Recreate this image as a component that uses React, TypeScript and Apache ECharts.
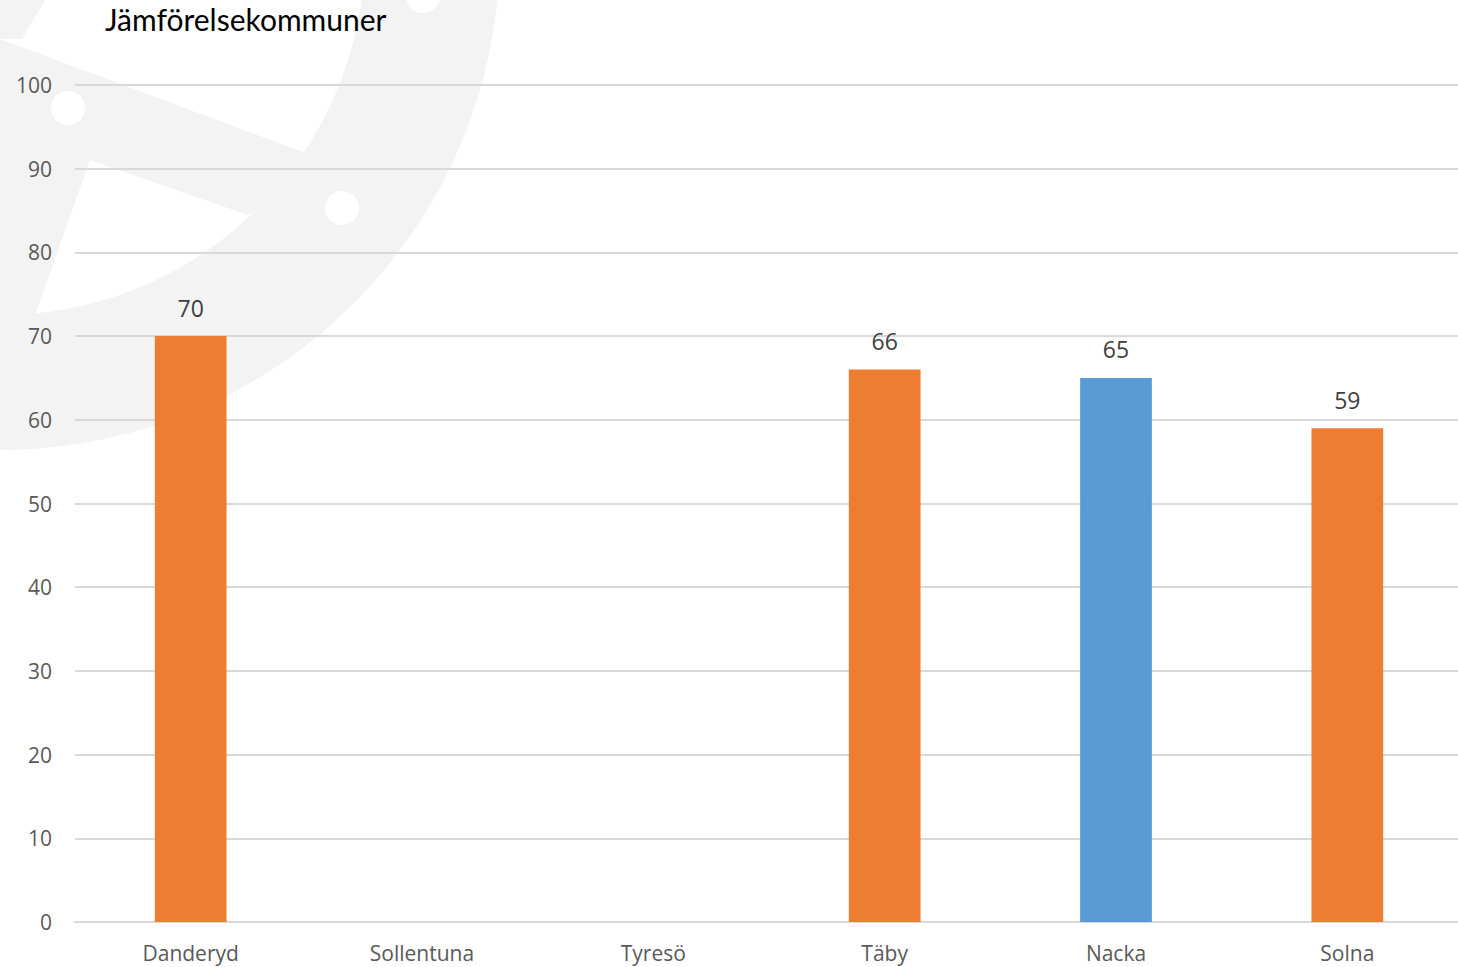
import React, { useEffect, useRef } from "react";
import * as echarts from "echarts";

const categories = ["Danderyd", "Sollentuna", "Tyresö", "Täby", "Nacka", "Solna"];
const values: (number | null)[] = [70, null, null, 66, 65, 59];
const barColors = ["#ED7D31", "#ED7D31", "#ED7D31", "#ED7D31", "#5B9BD5", "#ED7D31"];
const titleText = "Jämförelsekommuner";

const GRAY = "#f3f3f3";

export default function App() {
  const ref = useRef<HTMLDivElement>(null);
  useEffect(() => {
    if (!ref.current) return;
    const chart = echarts.init(ref.current, undefined, { renderer: "svg" });
    const font = "'Open Sans', 'Noto Sans', sans-serif";
    chart.setOption({
      animation: false,
      backgroundColor: "#ffffff",
      title: {
        text: titleText,
        left: 100,
        top: -1,
        textStyle: { fontFamily: "Lato, sans-serif", fontSize: 30, fontWeight: "normal", color: "#000000" },
      },
      graphic: [
        { type: "ring", z: -10, shape: { cx: 0, cy: -50, r: 500, r0: 365 }, style: { fill: GRAY } },
        {
          type: "polygon", z: -10,
          shape: { points: [[0, 39], [303, 152], [330, 180], [248, 215], [90, 160], [0, 129]] },
          style: { fill: GRAY },
        },
        {
          type: "polygon", z: -10,
          shape: { points: [[0, 129], [90, 160], [35, 315], [0, 315]] },
          style: { fill: GRAY },
        },
        {
          type: "polygon", z: -10,
          shape: { points: [[0, 0], [45, 0], [22, 39], [0, 39]] },
          style: { fill: GRAY },
        },
        { type: "circle", z: -9, shape: { cx: 68, cy: 108, r: 17 }, style: { fill: "#ffffff" } },
        { type: "circle", z: -9, shape: { cx: 342, cy: 208, r: 17 }, style: { fill: "#ffffff" } },
        { type: "circle", z: -9, shape: { cx: 423, cy: -4, r: 17 }, style: { fill: "#ffffff" } },
      ],
      grid: { left: 75, right: 0, top: 85, bottom: 45, containLabel: false },
      xAxis: {
        type: "category",
        data: categories,
        axisTick: { show: false },
        axisLine: { lineStyle: { color: "#d9d9d9", width: 2 } },
        axisLabel: { color: "#595959", fontSize: 21, fontFamily: font, margin: 20 },
      },
      yAxis: {
        type: "value",
        min: 0,
        max: 100,
        interval: 10,
        axisLine: { show: false },
        axisTick: { show: false },
        splitLine: { lineStyle: { color: "#d9d9d9", width: 2 } },
        axisLabel: { color: "#595959", fontSize: 21, fontFamily: font, margin: 23 },
      },
      series: [
        {
          type: "bar",
          barWidth: "31%",
          data: values.map((v, i) => ({ value: v, itemStyle: { color: barColors[i] } })),
          label: {
            show: true,
            position: "top",
            distance: 17,
            color: "#404040",
            fontSize: 23,
            fontFamily: font,
          },
        },
      ],
    });
    return () => chart.dispose();
  }, []);
  return (
    <div style={{ position: "absolute", left: 0, top: 0, width: 1458, height: 967, overflow: "hidden" }}>
      <div ref={ref} style={{ position: "absolute", left: 0, top: 0, width: 1463, height: 967 }} />
    </div>
  );
}
